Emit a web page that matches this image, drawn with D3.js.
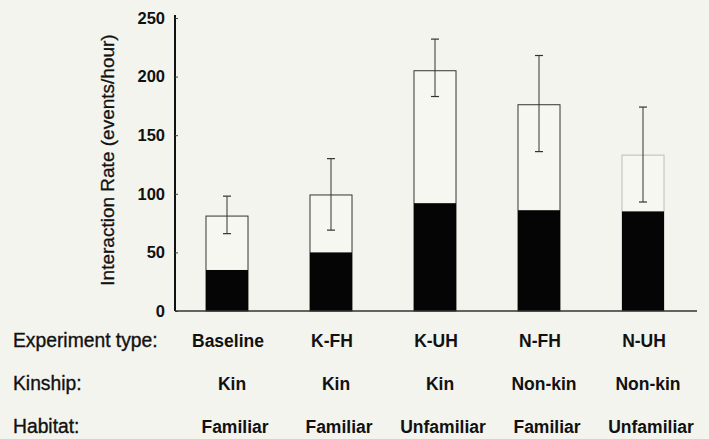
<!DOCTYPE html>
<html>
<head>
<meta charset="utf-8">
<script src="https://cdn.jsdelivr.net/npm/d3@7"></script>
<style>
  body { margin: 0; background: #f4f4ee; }
  svg { display: block; }
  text { font-family: "Liberation Sans", Arial, sans-serif; fill: #111; }
</style>
</head>
<body>
<svg id="chart" width="709" height="439"></svg>
<script>
// data
var experiments = ["Baseline", "K-FH", "K-UH", "N-FH", "N-UH"];
var kinship = ["Kin", "Kin", "Kin", "Non-kin", "Non-kin"];
var habitat = ["Familiar", "Familiar", "Unfamiliar", "Familiar", "Unfamiliar"];
var totalRate = [81, 99, 205, 176, 133];   // white bar tops
var darkRate = [35, 50, 92, 86, 85];       // black part
var errHigh = [98, 130, 232, 218, 174];
var errLow = [66, 69, 183, 136, 93];
var yTicks = [0, 50, 100, 150, 200, 250];

var svg = d3.select("#chart");

var x = d3.scaleBand().domain(experiments).range([175, 695])
    .paddingInner(0.596).paddingOuter(0.298);
var y = d3.scaleLinear().domain([0, 250]).range([311, 18]);

// y axis
var yAxis = svg.append("g")
    .attr("transform", "translate(175,0)")
    .call(d3.axisLeft(y).tickValues(yTicks).tickSize(-3).tickPadding(10));
yAxis.select(".domain").attr("d", "M0,15V311").attr("stroke", "#111").attr("stroke-width", 2);
yAxis.selectAll(".tick line").attr("stroke", "#444");
yAxis.selectAll(".tick text")
    .style("font-size", "16.5px")
    .style("font-weight", "bold")
    .style("font-family", "Liberation Sans, Arial, sans-serif")
    .attr("fill", "#111");

svg.append("text")
    .attr("transform", "translate(114,160) rotate(-90)")
    .attr("text-anchor", "middle")
    .style("font-size", "19px")
    .style("stroke", "#111").style("stroke-width", 0.3)
    .text("Interaction Rate (events/hour)");

// bars: white total, black lower part
var g = svg.append("g");
experiments.forEach(function(e, i) {
  g.append("rect")
    .attr("x", x(e))
    .attr("y", y(totalRate[i]))
    .attr("width", x.bandwidth())
    .attr("height", y(0) - y(totalRate[i]))
    .attr("fill", "#f7f7f2")
    .attr("stroke", i == 4 ? "#bbb" : "#333")
    .attr("stroke-width", 1);
  g.append("rect")
    .attr("x", x(e))
    .attr("y", y(darkRate[i]))
    .attr("width", x.bandwidth())
    .attr("height", y(0) - y(darkRate[i]))
    .attr("fill", "#050505");

  var cx = x(e) + x.bandwidth() / 2;
  g.append("line").attr("x1", cx).attr("x2", cx)
    .attr("y1", y(errHigh[i])).attr("y2", y(errLow[i]))
    .attr("stroke", "#333").attr("stroke-width", 1);
  [errHigh[i], errLow[i]].forEach(function(v) {
    g.append("line").attr("x1", cx - 4).attr("x2", cx + 4)
      .attr("y1", y(v)).attr("y2", y(v))
      .attr("stroke", "#333").attr("stroke-width", 1.2);
  });
});

// baseline
svg.append("line")
  .attr("x1", 175).attr("x2", 697)
  .attr("y1", y(0)).attr("y2", y(0))
  .attr("stroke", "#333").attr("stroke-width", 1.5);

// table of conditions under the chart
var rows = [
  { label: "Experiment type:", values: experiments, yy: 347, dx: 1 },
  { label: "Kinship:", values: kinship, yy: 390, dx: 5 },
  { label: "Habitat:", values: habitat, yy: 433, dx: 8 }
];
rows.forEach(function(r) {
  svg.append("text").attr("x", 13).attr("y", r.yy)
    .style("font-size", "19.3px")
    .style("stroke", "#111").style("stroke-width", 0.35)
    .text(r.label);
  r.values.forEach(function(v, i) {
    svg.append("text")
      .attr("x", x(experiments[i]) + x.bandwidth() / 2 + r.dx)
      .attr("y", r.yy)
      .attr("text-anchor", "middle")
      .style("font-size", "17.5px")
      .style("font-weight", "bold")
      .text(v);
  });
});
</script>
</body>
</html>
